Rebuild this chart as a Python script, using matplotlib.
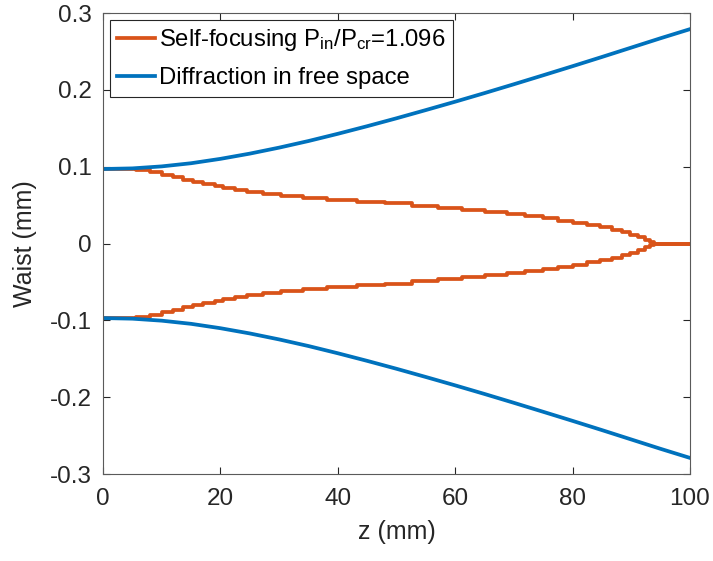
import numpy as np
import matplotlib.pyplot as plt

plt.rcParams['font.family'] = ['Liberation Sans', 'DejaVu Sans']
plt.rcParams['mathtext.fontset'] = 'custom'
plt.rcParams['mathtext.rm'] = 'Liberation Sans'
plt.rcParams['mathtext.it'] = 'Liberation Sans'

# free-space Gaussian beam radius (mm) vs propagation distance (mm)
z_free = [0, 5, 10, 15, 20, 25, 30, 35, 40, 45, 50,
          55, 60, 65, 70, 75, 80, 85, 90, 95, 100]
w_free = [0.097, 0.0978, 0.1004, 0.1045, 0.1102, 0.1170, 0.1248, 0.1334, 0.1428, 0.1527, 0.1630,
          0.1737, 0.1846, 0.1958, 0.2073, 0.2190, 0.2308, 0.2428, 0.2550, 0.2672, 0.2790]

# self-focused beam radius, stepped output of the solver grid
z_sf = [0, 5.7, 8.0, 10.0, 12.0, 13.7, 15.4, 17.1, 19.1, 20.5, 22.5, 24.5, 27.3,
        30.4, 34.1, 38.1, 43.2, 48.0, 52.6, 57.1, 61.1, 65.1, 68.8, 71.9, 75.0,
        77.6, 80.1, 82.4, 84.7, 86.7, 88.4, 89.8, 91.2, 92.3, 93.2, 93.8, 100]
w_sf = [0.0965, 0.0961, 0.0926, 0.0896, 0.0861, 0.0831, 0.0805, 0.0775, 0.0745, 0.0719, 0.0697, 0.0671, 0.0645,
        0.0619, 0.0593, 0.0567, 0.0545, 0.0524, 0.0494, 0.0463, 0.0437, 0.0407, 0.0381, 0.0355, 0.0329,
        0.0299, 0.0273, 0.0243, 0.0212, 0.0182, 0.0152, 0.0117, 0.0082, 0.0048, 0.0020, 0.0, 0.0]

orange = '#D95319'
blue = '#0072BD'
dark = '#262626'

fig = plt.figure(figsize=(7.13, 5.61), dpi=100)
ax = fig.add_axes([0.1445, 0.155, 0.8232, 0.8218])

z_sf = np.array(z_sf)
w_sf = np.array(w_sf)
z_free = np.array(z_free)
w_free = np.array(w_free)

l1, = ax.plot(z_sf, w_sf, color=orange, lw=2.7, drawstyle='steps-post')
ax.plot(z_sf, -w_sf, color=orange, lw=2.7, drawstyle='steps-post')
l2, = ax.plot(z_free, w_free, color=blue, lw=2.7)
ax.plot(z_free, -w_free, color=blue, lw=2.7)

ax.set_xlim(0, 100)
ax.set_ylim(-0.3, 0.3)
ax.set_xticks(np.arange(0, 101, 20))
ax.set_yticks(np.arange(-0.3, 0.31, 0.1))
ax.set_yticklabels(['-0.3', '-0.2', '-0.1', '0', '0.1', '0.2', '0.3'])

ax.tick_params(direction='in', top=True, right=True, length=5, width=0.8,
               labelsize=17.5, colors=dark)
ax.tick_params(axis='x', pad=10)
ax.tick_params(axis='y', pad=8)
for sp in ax.spines.values():
    sp.set_color('#5a5a5a')
    sp.set_linewidth(0.8)

ax.set_xlabel('z (mm)', fontsize=18, color=dark, labelpad=7)
ax.set_ylabel('Waist (mm)', fontsize=18, color=dark, labelpad=9)

leg = ax.legend([l1, l2],
                ['Self-focusing P$_{\\mathrm{in}}$/P$_{\\mathrm{cr}}$=1.096',
                 'Diffraction in free space'],
                loc='upper left', bbox_to_anchor=(0.012, 0.985), fontsize=17.2,
                frameon=True, fancybox=False, framealpha=1, edgecolor=dark,
                handlelength=1.6, handletextpad=0.15, borderpad=0.3,
                labelspacing=0.6, borderaxespad=0)
leg.get_frame().set_linewidth(0.8)

fig.savefig('out.png', dpi=100)
